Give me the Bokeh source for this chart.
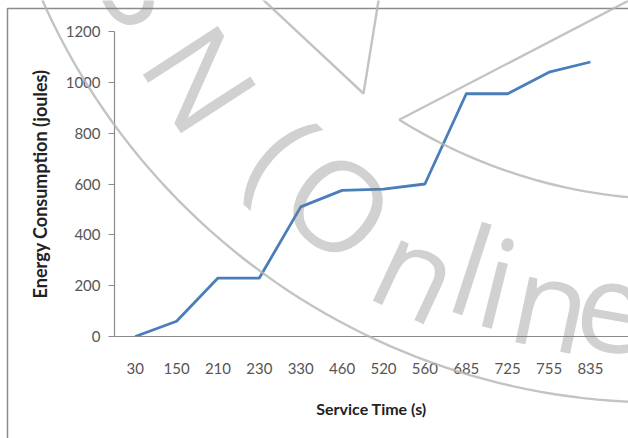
import numpy as np
from bokeh.plotting import figure
from bokeh.models import Range1d, FixedTicker
from bokeh.core.properties import value
from bokeh.embed import file_html
from bokeh.resources import INLINE

# Energy consumed against service time
service_time = ["30", "150", "210", "230", "330", "460", "520", "560", "685", "725", "755", "835"]
energy_joules = [0, 60, 230, 230, 510, 575, 580, 600, 955, 955, 1040, 1080]
y_ticks = [0, 200, 400, 600, 800, 1000, 1200]

W, H = 628, 438
LEFT, TOP, BOTTOM = 114, 31, 102
X0, X1 = -0.5, 11.92
Y0, Y1 = 0, 1200

p = figure(width=W, height=H,
           x_range=Range1d(X0, X1), y_range=Range1d(Y0, Y1),
           output_backend="svg", toolbar_location=None,
           min_border_left=LEFT, min_border_right=0,
           min_border_top=TOP, min_border_bottom=BOTTOM)
p.outline_line_color = None
p.background_fill_color = "white"
p.border_fill_color = "white"
p.xgrid.visible = False
p.ygrid.visible = False

FONT = "Lato"
idx = list(range(len(service_time)))

# x axis: one slot per service time
xa = p.xaxis[0]
xa.ticker = FixedTicker(ticks=idx)
xa.major_label_overrides = {i: s for i, s in zip(idx, service_time)}
xa.major_tick_out = 0
xa.major_tick_in = 0
xa.minor_tick_out = 0
xa.minor_tick_in = 0
xa.axis_line_color = "#8a8a8a"
xa.axis_line_width = 1.2
xa.major_label_standoff = 26
xa.major_label_text_font = FONT
xa.major_label_text_font_size = "15px"
xa.major_label_text_color = "#555555"
xa.axis_label = "Service Time (s)"
xa.axis_label_text_font = FONT
xa.axis_label_text_font_style = "bold"
xa.axis_label_text_font_size = "16px"
xa.axis_label_text_color = "#222222"
xa.axis_label_standoff = 22

ya = p.yaxis[0]
ya.ticker = FixedTicker(ticks=y_ticks)
ya.major_tick_out = 6
ya.major_tick_in = 0
ya.minor_tick_out = 0
ya.minor_tick_in = 0
ya.major_tick_line_color = "#8a8a8a"
ya.axis_line_color = "#8a8a8a"
ya.axis_line_width = 1.2
ya.major_label_standoff = 8
ya.major_label_text_font = FONT
ya.major_label_text_font_size = "15px"
ya.major_label_text_color = "#555555"
ya.axis_label = "Energy Consumption (joules)"
ya.axis_label_text_font = FONT
ya.axis_label_text_font_style = "bold"
ya.axis_label_text_font_size = "18px"
ya.axis_label_text_color = "#222222"
ya.axis_label_standoff = 12

p.line(idx, energy_joules, line_color="#4a7ebb", line_width=2.8, line_join="round")

# transparent page-sized layer on top: chart border and seal watermark,
# in page pixels (y grows downwards)
wm = figure(width=W, height=H, x_range=Range1d(0, W), y_range=Range1d(H, 0),
            x_axis_type=None, y_axis_type=None,
            output_backend="svg", toolbar_location=None, min_border=0)
wm.outline_line_color = None
wm.background_fill_alpha = 0
wm.border_fill_alpha = 0
wm.grid.visible = False
wm.styles = {"position": "absolute", "top": "0px", "left": "0px", "pointer-events": "none"}

wm.line([7, 7, 640], [450, 8, 8], line_color="#8c8c8c", line_width=1.5)

RING = "#b4b4b4"
t = np.radians(np.linspace(160, 88, 60))
wm.line(660 + 676 * np.cos(t), -274 + 676 * np.sin(t), line_color=RING, line_width=2.4, line_alpha=0.8)
t = np.radians(np.linspace(122, 92, 30))
wm.line(np.r_[640, 677 + 525 * np.cos(t)], np.r_[-6, -326 + 525 * np.sin(t)],
        line_color=RING, line_width=2.4, line_alpha=0.8)
wm.line([257, 363, 379], [-6, 93, -6], line_color=RING, line_width=2.4, line_alpha=0.8)

letters = ["S", "N", "(", "O", "n", "l", "i", "n", "e"]
lx = [150, 202, 285, 340, 418, 472, 498, 552, 612]
ly = [-15, 77, 150, 203, 268, 267, 280, 300, 306]
la = [-62, -57, -42, -38, -25, -18, -14, -12, -10]
wm.text(lx, ly, text=letters, angle=la, angle_units="deg",
        text_align="center", text_baseline="middle",
        text_font=value("Open Sans"), text_font_size="125px",
        text_color="#7a7a7a", text_alpha=0.35)

open("out.html", "w").write(file_html([p, wm], INLINE))
